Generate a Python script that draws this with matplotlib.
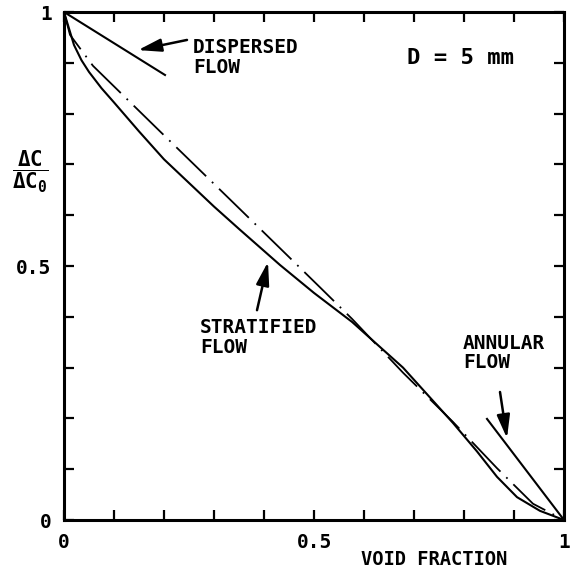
import numpy as np
import matplotlib
matplotlib.use("Agg")
import matplotlib.pyplot as plt

plt.rcParams["font.family"] = ["DejaVu Sans Mono"]
plt.rcParams["font.weight"] = "bold"
plt.rcParams["mathtext.fontset"] = "custom"
plt.rcParams["mathtext.rm"] = "DejaVu Sans Mono:bold"
plt.rcParams["mathtext.it"] = "DejaVu Sans Mono:bold"

# stratified flow (solid curve)
strat_x = [0, 0.02, 0.035, 0.05, 0.075, 0.10, 0.15, 0.20, 0.30, 0.35, 0.432, 0.50,
           0.576, 0.678, 0.778, 0.826, 0.866, 0.906, 0.952, 1]
strat_y = [1, 0.935, 0.905, 0.882, 0.85, 0.822, 0.765, 0.71, 0.617, 0.573, 0.502, 0.447,
           0.39, 0.30, 0.191, 0.135, 0.085, 0.045, 0.018, 0]

# homogeneous reference (dash-dot curve)
homog_x = [0, 0.012, 0.058, 0.192, 0.332, 0.432, 0.512, 0.576, 0.678, 0.778, 0.866,
           0.938, 1]
homog_y = [1, 0.955, 0.894, 0.765, 0.631, 0.535, 0.458, 0.396, 0.29, 0.193, 0.102,
           0.032, 0]

# dispersed and annular flow (straight segments)
disp_x = [0, 0.202]
disp_y = [1, 0.876]
annul_x = [0.846, 1]
annul_y = [0.199, 0]

major_ticks = [0, 0.5, 1]
major_labels = ["0", "0.5", "1"]
minor_ticks = np.arange(0, 1.01, 0.1)

fig = plt.figure(figsize=(5.71, 5.69), dpi=100)
ax = fig.add_axes([64 / 571, 1 - 520 / 569, 500 / 571, 508 / 569])

ax.plot(strat_x, strat_y, color="black", lw=1.5)
ax.plot(homog_x, homog_y, color="black", lw=1.3, dashes=(23, 4.5, 1, 4.5))
ax.plot(disp_x, disp_y, color="black", lw=1.5)
ax.plot(annul_x, annul_y, color="black", lw=1.5)

ax.set_xlim(0, 1)
ax.set_ylim(0, 1)
ax.set_xticks(major_ticks)
ax.set_xticklabels(major_labels)
ax.set_yticks(major_ticks)
ax.set_yticklabels(major_labels)
ax.set_xticks(minor_ticks, minor=True)
ax.set_yticks(minor_ticks, minor=True)
ax.tick_params(which="both", direction="in", top=True, right=True,
               length=7, width=1.6, labelsize=14, pad=9)
for s in ax.spines.values():
    s.set_linewidth(2.2)

arrow = dict(arrowstyle="-|>,head_length=1.0,head_width=0.28", lw=1.8,
             color="black", shrinkA=0, shrinkB=0, mutation_scale=14)

ax.annotate("", xy=(0.148, 0.925), xytext=(0.246, 0.945), arrowprops=arrow)
ax.text(0.258, 0.948, "DISPERSED\nFLOW", ha="left", va="top", fontsize=14, linespacing=1.05)

ax.annotate("", xy=(0.408, 0.508), xytext=(0.386, 0.413), arrowprops=arrow)
ax.text(0.272, 0.397, "STRATIFIED\nFLOW", ha="left", va="top", fontsize=14, linespacing=1.05)

ax.annotate("", xy=(0.886, 0.161), xytext=(0.872, 0.252), arrowprops=arrow)
ax.text(0.798, 0.367, "ANNULAR\nFLOW", ha="left", va="top", fontsize=14, linespacing=1.05)

ax.text(0.686, 0.93, "D = 5 mm", ha="left", va="top", fontsize=16)

ax.text(0.74, -0.078, "VOID FRACTION", ha="center", va="center", fontsize=13.5,
        transform=ax.transAxes)
ax.text(-0.068, 0.685, r"$\dfrac{\Delta\mathrm{C}}{\Delta\mathrm{C}_0}$", ha="center",
        va="center", fontsize=15, transform=ax.transAxes)

fig.savefig("out.png", dpi=100)
